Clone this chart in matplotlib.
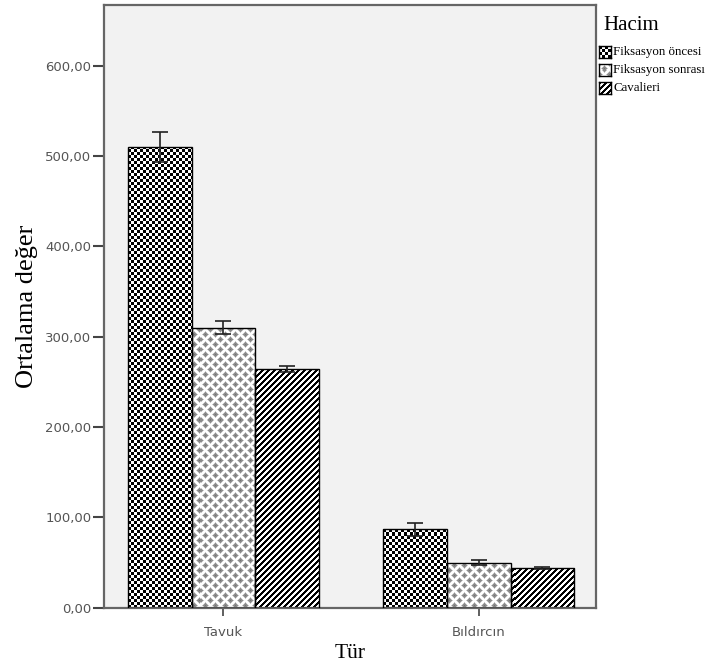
import numpy as np
import matplotlib
matplotlib.use("Agg")
import matplotlib.pyplot as plt

# values
groups = ['Tavuk', 'Bıldırcın']
series = ['Fiksasyon öncesi', 'Fiksasyon sonrası', 'Cavalieri']
oncesi = [510.0, 86.8]
sonrasi = [310.0, 49.8]
cavalieri = [264.0, 43.9]
oncesi_err = [17.0, 7.3]
sonrasi_err = [7.5, 2.8]
cavalieri_err = [3.5, 1.2]
ytick_vals = [0, 100, 200, 300, 400, 500, 600]
ytick_labels = ['0,00', '100,00', '200,00', '300,00', '400,00', '500,00', '600,00']


def texture(kind, h, w):
    yy, xx = np.mgrid[0:h, 0:w]
    img = np.ones((h, w, 3))
    if kind == 'checker':
        dark = ((xx // 3 + yy // 3) % 2) == 0
        img[dark] = 0.0
    elif kind == 'diamond':
        u = xx + yy
        v = xx - yy
        du = np.abs(((u + 5) % 10) - 5)
        dv = np.abs(((v + 5) % 10) - 5)
        d = np.maximum(du, dv)
        img[d <= 3] = 0.8
        img[d <= 2] = 0.55
        img[d <= 0] = 0.45
    elif kind == 'stripe':
        dark = ((xx + yy) % 6) < 3
        img[dark] = 0.0
    return img


kinds = ['checker', 'diamond', 'stripe']
values = [oncesi, sonrasi, cavalieri]
errors = [oncesi_err, sonrasi_err, cavalieri_err]

fig = plt.figure(figsize=(7.12, 6.69), dpi=100)
ax = fig.add_axes([0.1461, 0.0916, 0.691, 0.9009])
ax.set_facecolor('#f2f2f2')

W = int(round(0.691 * 712))
H = int(round(0.9009 * 669))

x = np.arange(len(groups))
width = 0.25
for i in range(3):
    pos = x + (i - 1) * width
    bars = ax.bar(pos, values[i], width, facecolor='none', edgecolor='black',
                  linewidth=1.0, zorder=3)
    tex = texture(kinds[i], H, W)
    for b in bars:
        im = ax.imshow(tex, extent=[0, 1, 0, 1], transform=ax.transAxes,
                       interpolation='nearest', aspect='auto', zorder=2)
        im.set_clip_path(b)
    ax.errorbar(pos, values[i], yerr=errors[i], fmt='none', ecolor='#222222',
                elinewidth=1.2, capsize=6, capthick=1.2, zorder=4)

ax.set_xlim(-0.468, 1.46)
ax.set_ylim(0, 667)
ax.set_xticks(x)
ax.set_xticklabels(groups)
ax.set_yticks(ytick_vals)
ax.set_yticklabels(ytick_labels)

for s in ax.spines.values():
    s.set_color('#666666')
    s.set_linewidth(1.6)
ax.tick_params(axis='y', length=8, width=1.5, color='#444444', labelsize=9.5,
               labelcolor='#555555', pad=1)
ax.tick_params(axis='x', length=6, width=1.2, color='#444444', labelsize=9.5,
               labelcolor='#555555', pad=7)

ax.set_xlabel('Tür', family='Liberation Serif', fontsize=15.5, labelpad=4)
ax.set_ylabel('Ortalama değer', family='Liberation Serif', fontsize=19)
ax.yaxis.set_label_coords(-0.134, 0.5)

# legend drawn by hand so the fill patterns match
fig.text(603 / 712, 1 - 26 / 669, 'Hacim', family='Liberation Serif',
         fontsize=15, va='center', ha='left')
ys = [52, 70, 88]
for i in range(3):
    hax = fig.add_axes([599 / 712, 1 - (ys[i] + 6) / 669, 12 / 712, 12 / 669])
    hax.imshow(texture(kinds[i], 12, 12), interpolation='nearest', aspect='auto')
    hax.set_xticks([])
    hax.set_yticks([])
    for s in hax.spines.values():
        s.set_color('black')
        s.set_linewidth(1.0)
    fig.text(613 / 712, 1 - ys[i] / 669, series[i], family='Liberation Serif',
             fontsize=9.3, va='center', ha='left')

fig.savefig('out.png', dpi=100)
